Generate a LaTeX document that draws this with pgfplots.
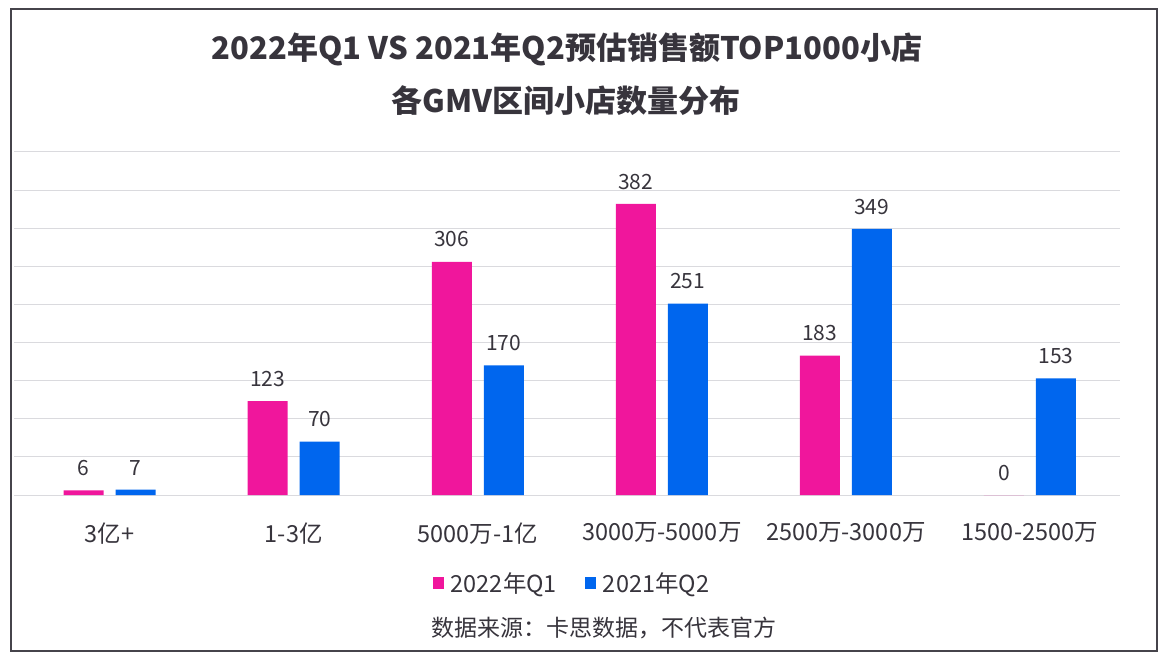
\documentclass[border=0pt]{standalone}
\usepackage{fontspec}
\setmainfont{Noto Sans CJK SC}
\usepackage{pgfplots}
\pgfplotsset{compat=1.18}
\definecolor{mag}{RGB}{240,22,156}
\definecolor{blu}{RGB}{0,102,238}
\definecolor{txt}{RGB}{55,52,60}
\definecolor{gridc}{RGB}{218,218,222}
\definecolor{framec}{RGB}{70,68,75}
\begin{document}
\begin{tikzpicture}
\begin{axis}[
  clip=false,
  scale only axis, width=1106pt, height=343pt,
  xmin=-0.52, xmax=5.49, ymin=0, ymax=450,
  ybar=12pt, bar width=40pt,
  ytick={0,50,...,450}, yticklabels={},
  ymajorgrids, grid style={gridc, line width=1pt},
  xtick={0,1,2,3,4,5},
  xticklabels={3亿+,1-3亿,5000万-1亿,3000万-5000万,2500万-3000万,1500-2500万},
  axis line style={draw=none}, major tick length=0pt,
  xticklabel style={font=\fontsize{23.5}{27}\selectfont, text=txt, yshift=-24pt},
  /pgf/number format/assume math mode=true,
  nodes near coords,
  every node near coord/.append style={font=\fontsize{21}{25}\selectfont, text=txt, yshift=11pt},
  legend style={at={(0.5045,-0.2566)}, anchor=center, draw=none, fill=none,
    legend columns=2, font=\fontsize{23.5}{27}\selectfont, text=txt,
    /tikz/every odd column/.append style={column sep=5pt},
    /tikz/every even column/.append style={column sep=26pt}},
  legend image code/.code={\fill[#1] (0pt,-6pt) rectangle (11pt,6pt);},
]
\addplot[fill=mag, draw=none] coordinates {(0,6) (1,123) (2,306) (3,382) (4,183) (5,0)};
\addplot[fill=blu, draw=none] coordinates {(0,7) (1,70) (2,170) (3,251) (4,349) (5,153)};
\legend{2022年Q1,2021年Q2}
\path (rel axis cs:-0.01266,1.4431) rectangle (rel axis cs:1.0434,-0.48688);
\draw[line width=2pt, framec] (rel axis cs:-0.0027,1.417) rectangle (rel axis cs:1.0335,-0.4548);
\node[font=\fontsize{31}{36}\selectfont\bfseries, text=txt] at (rel axis cs:0.5,1.298) {2022年Q1 VS 2021年Q2预估销售额TOP1000小店};
\node[font=\fontsize{31}{36}\selectfont\bfseries, text=txt] at (rel axis cs:0.4991,1.1486) {各GMV区间小店数量分布};
\node[font=\fontsize{23}{27}\selectfont, text=txt] at (rel axis cs:0.5335,-0.3878) {数据来源：卡思数据，不代表官方};
\end{axis}
\end{tikzpicture}
\end{document}
